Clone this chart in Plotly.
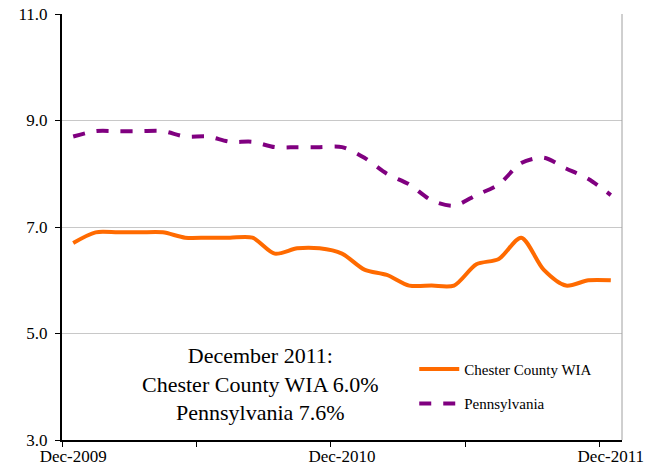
import plotly.graph_objects as go

months = ["Dec-2009", "Jan-2010", "Feb-2010", "Mar-2010", "Apr-2010", "May-2010", "Jun-2010",
          "Jul-2010", "Aug-2010", "Sep-2010", "Oct-2010", "Nov-2010", "Dec-2010",
          "Jan-2011", "Feb-2011", "Mar-2011", "Apr-2011", "May-2011", "Jun-2011",
          "Jul-2011", "Aug-2011", "Sep-2011", "Oct-2011", "Nov-2011", "Dec-2011"]
chester = [6.7, 6.9, 6.9, 6.9, 6.9, 6.8, 6.8, 6.8, 6.8, 6.5, 6.6, 6.6, 6.5,
           6.2, 6.1, 5.9, 5.9, 5.9, 6.3, 6.4, 6.8, 6.2, 5.9, 6.0, 6.0]
penn = [8.7, 8.8, 8.8, 8.8, 8.8, 8.7, 8.7, 8.6, 8.6, 8.5, 8.5, 8.5, 8.5,
        8.3, 8.0, 7.8, 7.5, 7.4, 7.6, 7.8, 8.2, 8.3, 8.1, 7.9, 7.6]
y_ticks = [3.0, 5.0, 7.0, 9.0, 11.0]
x_label_idx = [0, 12, 24]

xs = list(range(len(months)))
serif = "Liberation Serif, Times New Roman, serif"

fig = go.Figure()
fig.add_trace(go.Scatter(x=xs, y=chester, mode="lines", name="Chester County WIA",
                         legendgroup="a",
                         line=dict(color="#FF6A00", width=4, shape="spline", smoothing=0.8)))
fig.add_trace(go.Scatter(x=xs, y=penn, mode="lines", name="Pennsylvania",
                         legendgroup="b",
                         line=dict(color="#800080", width=4, dash="dash", shape="spline", smoothing=0.8)))

fig.update_layout(
    width=655, height=475,
    margin=dict(l=62, r=33, t=14, b=35),
    paper_bgcolor="white", plot_bgcolor="white",
    font=dict(family=serif, color="black", size=16),
    showlegend=True,
    legend=dict(x=0.629, y=0.205, xanchor="left", yanchor="top",
                bgcolor="rgba(0,0,0,0)", font=dict(size=15, family=serif),
                itemwidth=40, tracegroupgap=12),
    xaxis=dict(range=[-0.5, 24.5], tickmode="array", tickvals=x_label_idx,
               ticktext=[months[i] for i in x_label_idx], automargin=False,
               ticks="", showgrid=False, zeroline=False,
               showline=True, linecolor="black", linewidth=2,
               tickfont=dict(size=17, family=serif),
               minor=dict(tickmode="linear", tick0=-0.5, dtick=6, ticks="outside",
                          ticklen=5, tickwidth=1, tickcolor="black", showgrid=False)),
    yaxis=dict(range=[3, 11], tickmode="array", tickvals=y_ticks,
               ticktext=[f"{v:.1f}" for v in y_ticks], automargin=False,
               ticks="outside", ticklen=5, tickcolor="black", ticklabelstandoff=4,
               showgrid=True, gridcolor="#C8C8C8", gridwidth=1, zeroline=False,
               showline=True, linecolor="black", linewidth=2,
               tickfont=dict(size=17, family=serif)),
)

fig.add_shape(type="line", xref="paper", yref="paper", x0=1, x1=1, y0=0, y1=1,
              line=dict(color="#A0A0A0", width=1))

fig.add_annotation(xref="paper", yref="paper", x=0.355, y=0.232, xanchor="center", yanchor="top",
                   showarrow=False, align="center",
                   text="December 2011:<br>Chester County WIA 6.0%<br>Pennsylvania 7.6%",
                   font=dict(size=22, family=serif, color="black"))

fig.write_html("out.html", config={"displayModeBar": False},
               post_script="document.body.style.margin='0';")
